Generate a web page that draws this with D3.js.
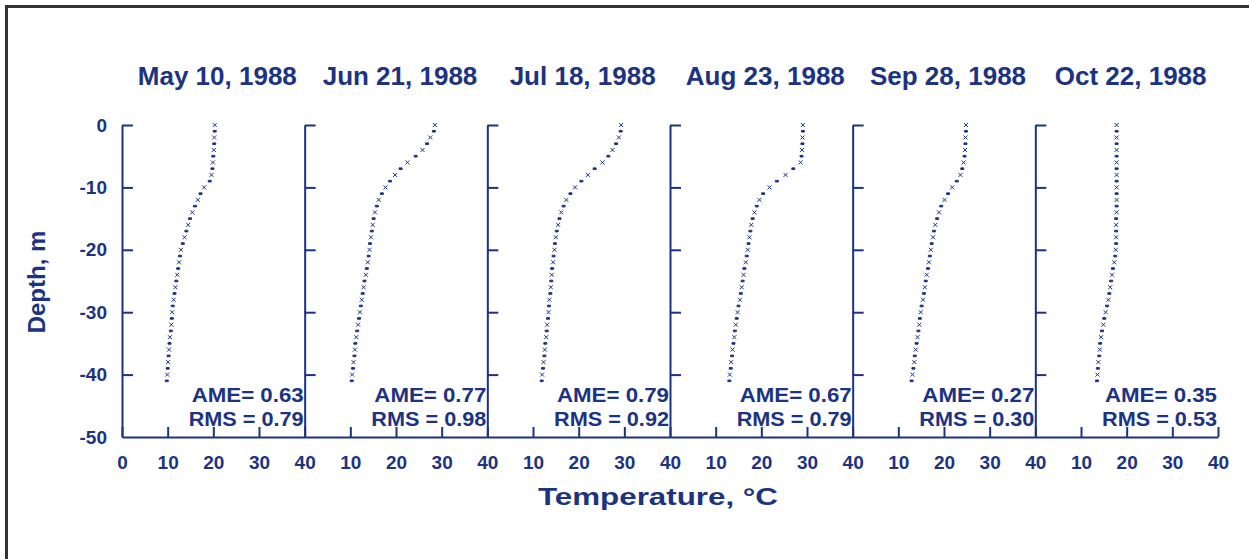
<!DOCTYPE html>
<html>
<head>
<meta charset="utf-8">
<script src="https://cdn.jsdelivr.net/npm/d3@7"></script>
<style>
  body { margin: 0; background: #fff; }
  text { font-family: "Liberation Sans", Arial, sans-serif; font-weight: bold; fill: #1c3382; }
</style>
</head>
<body>
<svg id="chart" width="1249" height="559"></svg>
<script>
// Survey dates (one panel each)
const dates = ["May 10, 1988", "Jun 21, 1988", "Jul 18, 1988", "Aug 23, 1988", "Sep 28, 1988", "Oct 22, 1988"];

// Sampling depths, m (shared by every profile)
const depths = [0, -1, -2, -3, -4, -5, -6, -7, -8, -9, -10, -11, -12, -13, -14, -15, -16, -17, -18, -19, -20,
                -21, -22, -23, -24, -25, -26, -27, -28, -29, -30, -31, -32, -33, -34, -35, -36, -37, -38, -39, -40, -41];

// Water temperature profiles, deg C, one value per depth above
const tempMay = [20.3, 20.3, 20.2, 20.2, 20.1, 20.0, 19.9, 19.8, 19.6, 19.2, 18.0, 17.2, 16.6, 16.0, 15.4, 14.9, 14.5, 14.1, 13.7, 13.3, 12.9,
                 12.7, 12.5, 12.3, 12.1, 11.9, 11.7, 11.5, 11.3, 11.1, 11.0, 10.9, 10.8, 10.7, 10.5, 10.4, 10.3, 10.2, 10.1, 10.0, 9.9, 9.8];
const tempJun = [28.5, 28.3, 27.5, 26.8, 25.8, 24.3, 22.5, 21.0, 19.8, 18.7, 17.7, 16.9, 16.2, 15.8, 15.4, 15.1, 14.9, 14.7, 14.5, 14.3, 14.2,
                 14.0, 13.8, 13.6, 13.4, 13.1, 12.9, 12.7, 12.5, 12.3, 12.1, 11.9, 11.7, 11.5, 11.3, 11.1, 11.0, 10.9, 10.7, 10.6, 10.4, 10.3];
const tempJul = [29.3, 29.2, 28.8, 28.2, 27.4, 26.5, 25.2, 23.5, 22.0, 20.6, 19.2, 18.2, 17.3, 16.7, 16.2, 15.8, 15.5, 15.2, 15.0, 14.8, 14.7,
                 14.5, 14.4, 14.2, 14.1, 14.0, 13.9, 13.8, 13.6, 13.5, 13.4, 13.3, 13.1, 13.0, 12.9, 12.7, 12.6, 12.5, 12.3, 12.2, 12.0, 11.9];
const tempAug = [29.1, 29.1, 29.0, 29.0, 28.9, 28.8, 28.6, 27.0, 25.3, 23.4, 21.8, 20.4, 19.6, 19.0, 18.5, 18.1, 17.8, 17.6, 17.4, 17.2, 17.0,
                 16.8, 16.6, 16.3, 16.1, 15.9, 15.7, 15.5, 15.3, 15.0, 14.8, 14.6, 14.4, 14.2, 14.1, 13.9, 13.7, 13.6, 13.4, 13.3, 13.1, 13.0];
const tempSep = [24.8, 24.8, 24.7, 24.7, 24.6, 24.5, 24.3, 24.0, 23.6, 22.8, 21.8, 20.9, 20.1, 19.4, 18.9, 18.5, 18.1, 17.8, 17.6, 17.3, 17.1,
                 16.9, 16.7, 16.5, 16.2, 16.0, 15.8, 15.6, 15.4, 15.1, 14.9, 14.7, 14.6, 14.4, 14.2, 14.0, 13.8, 13.6, 13.5, 13.3, 13.1, 12.9];
const tempOct = [17.8, 17.8, 17.8, 17.8, 17.8, 17.8, 17.8, 17.8, 17.8, 17.8, 17.8, 17.8, 17.8, 17.8, 17.8, 17.7, 17.7, 17.7, 17.7, 17.7, 17.6,
                 17.5, 17.3, 17.0, 16.8, 16.6, 16.4, 16.2, 16.0, 15.7, 15.4, 15.1, 14.9, 14.6, 14.4, 14.2, 14.1, 14.0, 13.8, 13.7, 13.6, 13.5];
const profiles = [tempMay, tempJun, tempJul, tempAug, tempSep, tempOct];

// Fit statistics, deg C
const ame = ["0.63", "0.77", "0.79", "0.67", "0.27", "0.35"];
const rms = ["0.79", "0.98", "0.92", "0.79", "0.30", "0.53"];

// Tick values
const depthTicks = [0, -10, -20, -30, -40, -50];
const tempTicksFirst = [0, 10, 20, 30, 40];
const tempTicks = [10, 20, 30, 40];

const ink = "#1c3382";
const svg = d3.select("#chart");

// Frame
svg.append("line").attr("x1", 5).attr("x2", 1249).attr("y1", 6.5).attr("y2", 6.5)
  .attr("stroke", "#333").attr("stroke-width", 3);
svg.append("line").attr("x1", 6.5).attr("x2", 6.5).attr("y1", 5).attr("y2", 559)
  .attr("stroke", "#333").attr("stroke-width", 3);

// Panel layout
const panelLeft = d3.scaleLinear().domain([0, dates.length]).range([122, 1218]);
const panelW = panelLeft(1) - panelLeft(0);
const y = d3.scaleLinear().domain([0, -50]).range([125, 437]);

function styleAxis(g) {
  g.selectAll("path, line").attr("stroke", ink).attr("stroke-width", 2);
  g.selectAll("text").attr("fill", ink).style("font-size", "19px")
    .style("font-family", "'Liberation Sans', Arial, sans-serif").style("font-weight", "bold");
}

// Shared depth labels on the left (plain hyphen for negatives)
const yLab = svg.append("g").attr("transform", `translate(${panelLeft(0)},0)`)
  .call(d3.axisLeft(y).tickValues(depthTicks).tickSize(0).tickPadding(15).tickFormat(d => String(d)));
yLab.select(".domain").remove();
styleAxis(yLab);

dates.forEach((date, i) => {
  const x0 = panelLeft(i);
  const x = d3.scaleLinear().domain([0, 40]).range([x0, x0 + panelW]);
  const g = svg.append("g");

  // depth axis with inward ticks
  const ya = g.append("g").attr("transform", `translate(${x0},0)`)
    .call(d3.axisRight(y).tickValues([0, -10, -20, -30, -40]).tickSizeInner(11).tickSizeOuter(0).tickFormat(""));
  styleAxis(ya);

  // temperature axis with inward ticks, labels below
  const xa = g.append("g").attr("transform", `translate(0,${y(-50)})`)
    .call(d3.axisBottom(x).tickValues(i === 0 ? tempTicksFirst : tempTicks)
      .tickSizeInner(-10).tickSizeOuter(0).tickPadding(19));
  styleAxis(xa);

  // title
  g.append("text").attr("x", x0 + panelW / 2 + 4).attr("y", 85)
    .attr("text-anchor", "middle").style("font-size", "26px").text(date);

  // profile markers
  const pts = depths.map((d, k) => ({ d, t: profiles[i][k], k }));
  g.selectAll(".pt").data(pts).join("path")
    .attr("class", "pt")
    .attr("transform", p => `translate(${x(p.t)},${y(p.d)})`)
    .attr("d", p => p.k % 2 === 0 ? "M-2,-2L2,2M-2,2L2,-2" : "M-1.5,-0.8h3v1.6h-3z")
    .attr("stroke", ink).attr("stroke-width", 1).attr("fill", ink);

  // fit statistics
  const xr = x0 + panelW - 1;
  g.append("text").attr("x", xr).attr("y", 402).attr("text-anchor", "end")
    .style("font-size", "21px").attr("textLength", 112).attr("lengthAdjust", "spacingAndGlyphs")
    .text(`AME= ${ame[i]}`);
  g.append("text").attr("x", xr).attr("y", 426).attr("text-anchor", "end")
    .style("font-size", "21px").attr("textLength", 115).attr("lengthAdjust", "spacingAndGlyphs")
    .text(`RMS = ${rms[i]}`);
});

// Axis titles
svg.append("text").attr("x", 658).attr("y", 505).attr("text-anchor", "middle")
  .attr("textLength", 240).attr("lengthAdjust", "spacingAndGlyphs")
  .style("font-size", "24px").text("Temperature, °C");
svg.append("text").attr("transform", "translate(45,282) rotate(-90)")
  .attr("text-anchor", "middle").style("font-size", "24px").text("Depth, m");
</script>
</body>
</html>
